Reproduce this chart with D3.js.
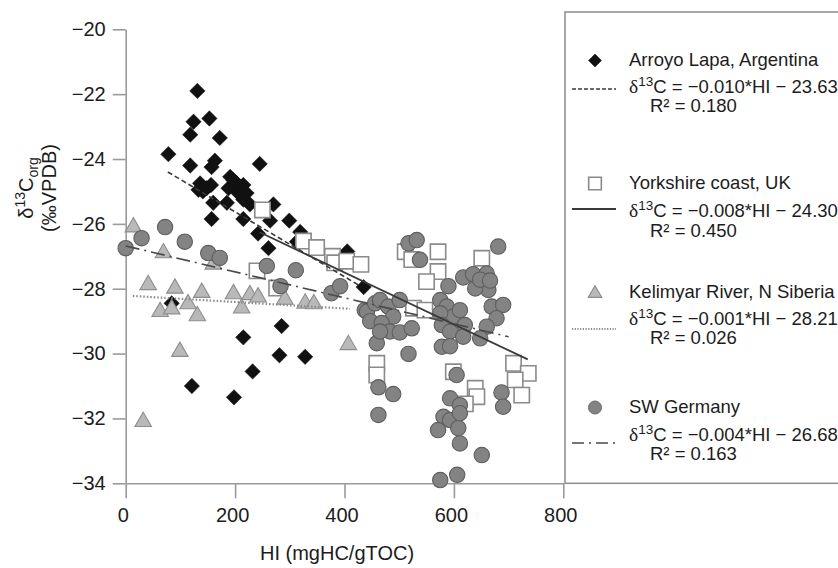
<!DOCTYPE html>
<html>
<head>
<meta charset="utf-8">
<script src="https://cdn.jsdelivr.net/npm/d3@7"></script>
<style>
  html, body { margin: 0; padding: 0; background: #fff; }
  svg text { font-family: "Liberation Sans", Arial, Helvetica, sans-serif; fill: #1c1c1c; }
</style>
</head>
<body>
<svg id="chart" width="838" height="568"></svg>
<script>
// Hydrogen index (mgHC/gTOC) vs δ13Corg (‰VPDB), one list of [HI, δ13C] pairs per locality
const arroyoLapa = [
  [131,-21.9],[153,-22.75],[124,-22.85],[118,-23.25],[172,-23.35],[78,-23.85],[118,-24.2],[163,-24.05],[157,-24.25],[245,-24.15],
  [136,-24.75],[148,-24.9],[156,-24.8],[133,-24.95],[141,-25.0],[191,-24.55],[203,-24.75],[215,-24.8],[188,-24.9],[203,-25.0],
  [221,-25.05],[197,-24.65],[210,-25.1],[160,-25.35],[185,-25.35],[215,-25.25],[227,-25.4],[270,-25.4],[157,-25.85],[215,-25.85],
  [264,-25.9],[299,-25.9],[242,-26.3],[261,-26.75],[319,-26.25],[313,-26.55],[405,-26.85],[435,-27.95],
  [84,-28.45],[215,-29.5],[285,-29.15],[232,-30.55],[281,-30.05],[328,-30.1],[121,-31.0],[198,-31.35]
];
const yorkshireCoast = [
  [240,-27.45],[250,-25.57],[276,-27.98],[325,-26.53],[349,-26.73],[378,-27.0],[382,-27.2],[404,-27.15],[430,-27.25],
  [511,-26.86],[523,-27.1],[571,-26.86],[571,-27.47],[550,-27.78],[651,-27.06],[526,-28.6],[547,-28.66],
  [459,-30.3],[459,-30.66],[599,-30.56],[639,-31.07],[642,-31.33],[621,-31.55],
  [709,-30.3],[736,-30.61],[712,-30.81],[724,-31.28]
];
const kelimyarRiver = [
  [14,-26.1],[69,-26.9],[160,-27.25],[41,-27.88],[90,-27.99],[139,-28.12],[197,-28.16],[227,-28.19],[242,-28.26],[291,-28.33],
  [328,-28.45],[344,-28.47],[63,-28.71],[84,-28.63],[114,-28.47],[131,-28.84],[212,-28.6],[99,-29.94],[407,-29.73],[32,-32.1]
];
const swGermany = [
  [0,-26.75],[29,-26.44],[72,-26.1],[108,-26.55],[151,-26.9],[172,-27.05],[258,-27.3],[311,-27.43],[283,-27.92],[376,-28.14],
  [392,-27.92],[437,-28.66],[517,-26.6],[532,-26.5],[538,-27.11],[681,-26.7],
  [441,-28.71],[456,-28.45],[465,-28.35],[480,-28.55],[501,-28.35],[489,-28.86],[447,-29.0],[468,-29.06],[483,-29.32],[501,-29.35],
  [523,-29.22],[459,-29.68],[465,-29.32],[517,-30.01],[462,-31.04],[489,-31.25],[462,-31.89],
  [590,-27.92],[617,-27.65],[635,-27.55],[660,-27.53],[663,-28.04],[639,-27.99],[648,-27.72],[666,-27.75],[669,-28.55],[690,-28.5],
  [678,-28.91],[660,-29.17],[648,-29.53],[575,-28.35],[587,-28.55],[599,-28.86],[611,-28.66],[575,-28.76],[578,-29.12],[620,-29.12],
  [593,-29.32],[617,-29.48],[578,-29.79],[593,-29.77],[605,-30.66],[593,-31.38],[611,-31.59],[581,-31.95],[593,-32.05],[611,-31.84],
  [571,-32.36],[608,-32.3],[611,-32.77],[651,-33.13],[575,-33.9],[606,-33.74],[687,-31.2],[690,-31.64]
];

// Linear fits: δ13C = slope*HI + intercept, drawn over each locality's HI range
const siteNames  = ["Arroyo Lapa, Argentina", "Yorkshire coast, UK", "Kelimyar River, N Siberia", "SW Germany"];
const fitSlopes  = [-0.010, -0.008, -0.001, -0.004];
const fitIntercepts = [-23.63, -24.30, -28.21, -26.68];
const fitR2      = [0.180, 0.450, 0.026, 0.163];
const fitHIRange = [[77, 425], [245, 735], [13, 410], [0, 700]];

// Axis ticks
const hiTicks = [0, 200, 400, 600, 800];
const d13Ticks = [-34, -32, -30, -28, -26, -24, -22, -20];

const svg = d3.select("#chart");
const x = d3.scaleLinear().domain([0, 800]).range([125.7, 563.3]);
const y = d3.scaleLinear().domain([-34, -20]).range([483.3, 29.3]);

const axisColor = "#9a9a9a";

// Legend frame (sits behind the plot's right edge)
svg.append("rect")
  .attr("x", 565).attr("y", 12).attr("width", 300).attr("height", 471.3)
  .attr("fill", "none").attr("stroke", "#8c8c8c").attr("stroke-width", 1.5);

// Axes
const yAxis = svg.append("g").attr("transform", `translate(${x(0)},0)`)
  .call(d3.axisLeft(y).tickValues(d13Ticks).tickSize(13).tickSizeOuter(0).tickPadding(7)
    .tickFormat(d3.format("d")));
const xAxis = svg.append("g").attr("transform", `translate(0,${y(-34)})`)
  .call(d3.axisBottom(x).tickValues(hiTicks).tickSize(15).tickSizeOuter(0).tickPadding(9.5));
[yAxis, xAxis].forEach(g => {
  g.select(".domain").attr("stroke", axisColor).attr("stroke-width", 1.6);
  g.selectAll(".tick line").attr("stroke", axisColor).attr("stroke-width", 1.6);
  g.selectAll(".tick text").attr("font-size", 20).attr("fill", "#1c1c1c")
    .style("font-family", '"Liberation Sans", Arial, sans-serif');
});
xAxis.selectAll(".tick text").attr("dx", -3);

// Axis titles
svg.append("text").attr("x", 337).attr("y", 560).attr("text-anchor", "middle")
  .attr("font-size", 20).text("HI (mgHC/gTOC)");

const yTitle = svg.append("g").attr("transform", "translate(33,188) rotate(-90)");
const yt1 = yTitle.append("text").attr("x", 0).attr("y", 0).attr("text-anchor", "middle").attr("font-size", 20);
yt1.append("tspan").text("δ");
yt1.append("tspan").attr("font-size", 14).attr("dy", -8).text("13");
yt1.append("tspan").attr("dy", 8).text("C");
yt1.append("tspan").attr("font-size", 14).attr("dy", 5).text("org");
yTitle.append("text").attr("x", 0).attr("y", 23).attr("text-anchor", "middle").attr("font-size", 20)
  .text("(‰VPDB)");

// Marker shapes
const diamondPath  = d3.symbol(d3.symbolSquare, 118)();
const squarePath   = d3.symbol(d3.symbolSquare, 235)();
const trianglePath = d3.symbol(d3.symbolTriangle, 118)();

const styles = [
  { path: diamondPath,  rotate: 45, fill: "#111",    stroke: "#111",    sw: 0.5 },
  { path: squarePath,   rotate: 0,  fill: "#fff",    stroke: "#8a8a8a", sw: 1.6 },
  { path: trianglePath, rotate: 0,  fill: "#b9b9b9", stroke: "#8d8d8d", sw: 1.1 },
];

const plot = svg.append("g");

function drawSymbols(data, st) {
  plot.append("g").selectAll("path").data(data).join("path")
    .attr("d", st.path)
    .attr("transform", d => `translate(${x(d[0])},${y(d[1])}) rotate(${st.rotate})`)
    .attr("fill", st.fill).attr("stroke", st.stroke).attr("stroke-width", st.sw);
}
drawSymbols(arroyoLapa, styles[0]);
drawSymbols(yorkshireCoast, styles[1]);
drawSymbols(kelimyarRiver, styles[2]);
plot.append("g").selectAll("circle").data(swGermany).join("circle")
  .attr("cx", d => x(d[0])).attr("cy", d => y(d[1])).attr("r", 7.7)
  .attr("fill", "#838383").attr("stroke", "#5e5e5e").attr("stroke-width", 1.1);

// Regression lines
const lineStyles = [
  { stroke: "#3a3a3a", dash: "5,3",          width: 1.6 },
  { stroke: "#3a3a3a", dash: null,           width: 1.8 },
  { stroke: "#8a8a8a", dash: "1.5,2",        width: 2.2 },
  { stroke: "#4a4a4a", dash: "14,5,2,5",     width: 1.6 },
];
fitSlopes.forEach((m, i) => {
  const pts = fitHIRange[i].map(h => [h, m * h + fitIntercepts[i]]);
  plot.append("path")
    .attr("d", d3.line().x(d => x(d[0])).y(d => y(d[1]))(pts))
    .attr("fill", "none").attr("stroke", lineStyles[i].stroke)
    .attr("stroke-width", lineStyles[i].width)
    .attr("stroke-dasharray", lineStyles[i].dash);
});

// Legend
const nameY = [66, 189, 298, 413];
const eqY   = [93, 217, 325, 441];
const r2Y   = [112, 237, 344, 460];
const keyY  = [89, 209, 329, 443];
const legend = svg.append("g");
const fmtSlope = d3.format(".3f"), fmtInt = d3.format(".2f"), fmtR2 = d3.format(".3f");

siteNames.forEach((name, i) => {
  const g = legend.append("g");
  const cy = nameY[i] - 5.5;
  if (i === 3) {
    g.append("circle").attr("cx", 595).attr("cy", cy).attr("r", 6.5)
      .attr("fill", "#838383").attr("stroke", "#6a6a6a").attr("stroke-width", 1);
  } else {
    const sizes = [84, 160, 80];
    const st = styles[i];
    g.append("path").attr("d", d3.symbol(i === 2 ? d3.symbolTriangle : d3.symbolSquare, sizes[i])())
      .attr("transform", `translate(595,${cy + (i === 2 ? 1 : 0)}) rotate(${st.rotate})`)
      .attr("fill", st.fill).attr("stroke", st.stroke).attr("stroke-width", st.sw);
  }
  g.append("text").attr("x", 629).attr("y", nameY[i]).attr("font-size", 18.5).text(name);

  const eq = g.append("text").attr("x", 629).attr("y", eqY[i]).attr("font-size", 18.5);
  eq.append("tspan").style("font-family", '"Liberation Serif", "Times New Roman", serif').attr("font-size", 19.5).text("δ");
  eq.append("tspan").attr("font-size", 13.5).attr("dy", -7).text("13");
  eq.append("tspan").attr("dy", 7)
    .text(`C = −${fmtSlope(Math.abs(fitSlopes[i]))}*HI − ${fmtInt(Math.abs(fitIntercepts[i]))}`);

  g.append("text").attr("x", 650).attr("y", r2Y[i]).attr("font-size", 18.5)
    .text(`R² = ${fmtR2(fitR2[i])}`);

  g.append("line").attr("x1", 572).attr("x2", 616).attr("y1", keyY[i]).attr("y2", keyY[i])
    .attr("stroke", lineStyles[i].stroke).attr("stroke-width", lineStyles[i].width)
    .attr("stroke-dasharray", i === 0 ? "4,2" : (i === 2 ? "1.2,1.5" : (i === 3 ? "12,5,2,5" : null)));
});
</script>
</body>
</html>
